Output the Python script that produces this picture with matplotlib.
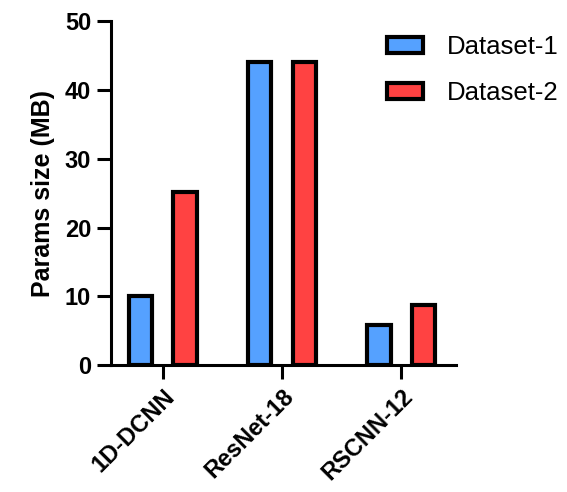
import numpy as np
import matplotlib
matplotlib.use('Agg')
import matplotlib.pyplot as plt

plt.rcParams['font.family'] = ['Liberation Sans', 'DejaVu Sans']

# data
models = ['1D-DCNN', 'ResNet-18', 'RSCNN-12']
dataset1 = [10.1, 44.0, 5.8]
dataset2 = [25.2, 44.0, 8.8]
series_names = ['Dataset-1', 'Dataset-2']
yticks = [0, 10, 20, 30, 40, 50]

blue = '#55A1FF'
red = '#FF4242'

fig = plt.figure(figsize=(5.67, 4.92), dpi=100)
ax = fig.add_axes([0.195, 0.258, 0.609, 0.699])

x = np.arange(len(models))
w = 0.197
off = 0.187
ax.bar(x - off, dataset1, w, color=blue, edgecolor='black', linewidth=3,
       label=series_names[0], zorder=3)
ax.bar(x + off, dataset2, w, color=red, edgecolor='black', linewidth=3,
       label=series_names[1], zorder=3)

ax.set_xlim(-0.44, 2.46)
ax.set_ylim(0, 50)
ax.set_yticks(yticks)
ax.set_yticklabels([str(v) for v in yticks], fontsize=17, fontweight='bold')
ax.set_xticks(x)
ax.set_xticklabels(models, fontsize=17, fontweight='bold', rotation=45,
                   ha='right', va='top', rotation_mode='anchor')
ax.tick_params(axis='both', length=10, width=2.2, direction='out', pad=4)
ax.set_ylabel('Params size (MB)', fontsize=18, fontweight='bold', labelpad=7)

for s in ['top', 'right']:
    ax.spines[s].set_visible(False)
for s in ['left', 'bottom']:
    ax.spines[s].set_linewidth(2.2)
    ax.spines[s].set_zorder(4)

leg = fig.legend(loc='upper left', bbox_to_anchor=(0.6825, 1 - 35 / 492),
                 frameon=False, fontsize=18.5, handlelength=1.4,
                 handleheight=0.6, handletextpad=0.95, labelspacing=0.85,
                 borderpad=0, borderaxespad=0)

fig.savefig('out.png', dpi=100)
